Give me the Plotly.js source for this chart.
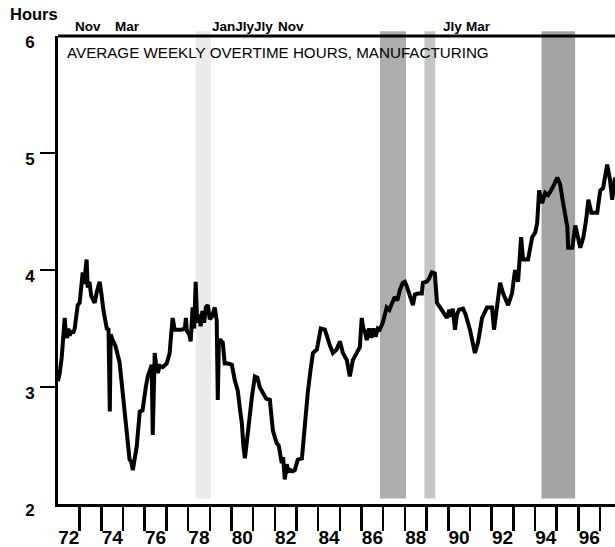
<!DOCTYPE html>
<html>
<head>
<meta charset="utf-8">
<script src="https://cdn.plot.ly/plotly-3.0.1.min.js"></script>
<style>
  html, body { margin: 0; padding: 0; background: #ffffff; }
  #chart { width: 615px; height: 547px; }
</style>
</head>
<body>
<div id="chart"></div>
<script>
// ---- Data (decimal year, hours) ----
const overtimeYears = [
  1972.00,1972.08,1972.17,1972.25,1972.31,1972.36,1972.42,1972.48,1972.54,1972.62,1972.70,1972.77,1972.85,1972.91,
  1973.00,1973.08,1973.14,1973.20,1973.26,1973.32,1973.37,1973.45,1973.53,1973.62,1973.69,1973.80,1973.92,
  1974.00,1974.10,1974.25,1974.33,1974.39,1974.43,1974.52,1974.65,1974.84,1974.95,
  1975.07,1975.20,1975.30,1975.38,1975.45,1975.55,1975.63,1975.77,1975.90,
  1976.05,1976.14,1976.25,1976.32,1976.37,1976.42,1976.46,1976.52,1976.60,1976.70,1976.83,
  1977.01,1977.10,1977.15,1977.22,1977.29,1977.38,1977.55,1977.70,1977.85,1977.90,1977.94,
  1978.05,1978.12,1978.17,1978.21,1978.28,1978.35,1978.42,1978.50,1978.58,1978.66,1978.74,1978.82,1978.91,
  1979.00,1979.10,1979.23,1979.32,1979.37,1979.42,1979.50,1979.60,1979.69,1979.85,
  1980.02,1980.15,1980.29,1980.40,1980.48,1980.55,1980.62,1980.72,1980.85,1980.94,
  1981.08,1981.20,1981.30,1981.45,1981.60,1981.77,1981.91,
  1982.00,1982.09,1982.18,1982.23,1982.32,1982.38,1982.46,1982.55,1982.62,1982.72,1982.82,1982.92,
  1983.06,1983.25,1983.38,1983.52,1983.65,1983.76,1983.94,
  1984.12,1984.31,1984.45,1984.55,1984.68,1984.85,
  1985.00,1985.14,1985.32,1985.46,1985.60,1985.78,1985.92,
  1986.01,1986.08,1986.15,1986.24,1986.35,1986.45,1986.55,1986.65,1986.75,1986.84,1986.98,
  1987.08,1987.16,1987.28,1987.40,1987.53,1987.65,1987.77,1987.90,
  1988.00,1988.09,1988.20,1988.30,1988.37,1988.46,1988.60,1988.78,1988.83,
  1989.00,1989.10,1989.24,1989.38,1989.48,1989.61,1989.75,1989.85,1989.94,
  1990.05,1990.12,1990.21,1990.31,1990.40,1990.50,1990.68,1990.80,
  1991.00,1991.14,1991.23,1991.37,1991.56,1991.79,
  1992.02,1992.11,1992.25,1992.39,1992.53,1992.76,1992.94,
  1993.08,1993.22,1993.36,1993.45,1993.68,1993.87,
  1994.01,1994.10,1994.19,1994.33,1994.47,1994.61,1994.80,
  1995.03,1995.16,1995.30,1995.49,1995.53,1995.72,1995.86,
  1996.00,1996.09,1996.23,1996.36,1996.46,1996.60,1996.87,
  1997.01,1997.14,1997.33,1997.46,1997.56,1997.69
];
const overtimeHours = [
  3.05,3.12,3.25,3.45,3.59,3.45,3.42,3.50,3.44,3.48,3.46,3.50,3.60,3.70,
  3.72,3.85,3.98,3.88,4.00,4.09,3.85,3.90,3.78,3.74,3.72,3.82,3.90,
  3.80,3.65,3.50,3.49,2.79,3.45,3.40,3.35,3.21,3.00,
  2.78,2.52,2.38,2.36,2.29,2.40,2.49,2.79,2.80,
  3.00,3.09,3.15,3.19,2.59,3.10,3.29,3.20,3.12,3.18,3.17,
  3.20,3.25,3.29,3.45,3.59,3.49,3.49,3.49,3.50,3.59,3.48,
  3.45,3.39,3.55,3.68,3.50,3.90,3.55,3.62,3.52,3.65,3.55,3.68,3.70,
  3.58,3.60,3.68,3.57,2.89,3.40,3.40,3.38,3.20,3.20,
  3.19,3.06,2.97,2.80,2.69,2.50,2.39,2.55,2.80,2.91,
  3.09,3.08,3.00,2.95,2.90,2.89,2.63,
  2.57,2.52,2.50,2.42,2.35,2.40,2.21,2.34,2.28,2.29,2.28,2.29,
  2.38,2.39,2.69,2.95,3.15,3.29,3.32,
  3.50,3.49,3.39,3.35,3.29,3.32,
  3.39,3.29,3.23,3.09,3.23,3.29,3.34,
  3.59,3.50,3.48,3.40,3.50,3.42,3.50,3.43,3.50,3.49,3.55,
  3.62,3.68,3.66,3.72,3.77,3.74,3.83,3.89,
  3.90,3.86,3.80,3.75,3.70,3.79,3.80,3.80,3.89,
  3.90,3.92,3.98,3.97,3.72,3.68,3.65,3.62,3.59,
  3.66,3.60,3.67,3.49,3.62,3.66,3.67,3.62,
  3.49,3.34,3.29,3.38,3.59,3.68,
  3.68,3.49,3.68,3.89,3.80,3.70,3.80,
  4.00,3.90,4.28,4.09,4.09,4.28,
  4.32,4.40,4.68,4.57,4.66,4.64,4.70,
  4.79,4.73,4.57,4.37,4.19,4.19,4.38,
  4.25,4.19,4.28,4.43,4.60,4.49,4.49,
  4.68,4.70,4.90,4.77,4.60,4.79
];

// Shaded bands (start, end in decimal years) and their grey tone
const bandStarts = [1978.35, 1986.85, 1988.90, 1994.30];
const bandEnds   = [1979.05, 1988.05, 1989.40, 1995.85];
const bandTones  = ['#ebebeb', '#adadad', '#c6c6c6', '#a4a4a4'];

// Axis ticks / labels
const yearTicks = [];
for (let y = 1973; y <= 1997; y++) yearTicks.push(y);
const yearLabelPos  = [1972.5,1974.5,1976.5,1978.5,1980.5,1982.5,1984.5,1986.5,1988.5,1990.5,1992.5,1994.5,1996.5];
const yearLabelText = ['72','74','76','78','80','82','84','86','88','90','92','94','96'];
const hourLabels = [2, 3, 4, 5, 6];
const hourTicks  = [3, 4, 5];

// Month labels along the top
const monthText = ['Nov', 'Mar', 'JanJlyJly', 'Nov', 'Jly', 'Mar'];
const monthPos  = [1973.39, 1975.19, 1980.50, 1982.75, 1990.21, 1991.39];

const chartTitle = 'AVERAGE WEEKLY OVERTIME HOURS, MANUFACTURING';
const unitLabel = 'Hours';

const XR = [1972, 1997.69];
const YR = [2, 6];
const FONT = 'Liberation Sans, Arial, Helvetica, sans-serif';

const traces = [
  {
    type: 'scatter', mode: 'lines',
    x: overtimeYears, y: overtimeHours,
    line: { color: '#000000', width: 4 },
    hoverinfo: 'skip', xaxis: 'x', yaxis: 'y'
  },
  { type: 'scatter', mode: 'lines', x: [], y: [], xaxis: 'x2', yaxis: 'y2', hoverinfo: 'skip' }
];

const shapes = bandStarts.map((s, i) => ({
  type: 'rect', xref: 'x', yref: 'paper',
  x0: s, x1: bandEnds[i], y0: 0.012, y1: 1.01,
  fillcolor: bandTones[i], line: { width: 0 }, layer: 'below'
}));
shapes.push({
  type: 'line', xref: 'paper', yref: 'paper', x0: 0, x1: 1, y0: 1, y1: 1,
  line: { color: '#000000', width: 3 }
});

const annotations = monthText.map((t, i) => ({
  text: t, xref: 'x', yref: 'paper', x: monthPos[i], y: 1,
  xanchor: 'center', yanchor: 'bottom', yshift: 0, showarrow: false,
  font: { family: FONT, size: 13.5, color: '#000', weight: 'bold' }
}));
annotations.push({
  text: chartTitle, xref: 'paper', yref: 'paper', x: 0.0126, y: 0.9637,
  xanchor: 'left', yanchor: 'middle', showarrow: false,
  font: { family: FONT, size: 15.2, color: '#000' }
});
annotations.push({
  text: unitLabel, xref: 'paper', yref: 'paper', x: -0.09, y: 1.07,
  xanchor: 'left', yanchor: 'top', showarrow: false,
  font: { family: FONT, size: 16.5, color: '#000', weight: 'bold' }
});

const layout = {
  width: 615, height: 547,
  margin: { l: 58, r: 0, t: 36, b: 43, pad: 0 },
  paper_bgcolor: '#ffffff', plot_bgcolor: '#ffffff',
  showlegend: false,
  xaxis: {
    range: XR, fixedrange: true, showgrid: false, zeroline: false,
    showline: true, linecolor: '#000', linewidth: 3,
    tickmode: 'array', tickvals: yearTicks, ticks: 'outside', ticklen: 24, tickwidth: 2.5, tickcolor: '#000',
    showticklabels: false
  },
  xaxis2: {
    range: XR, overlaying: 'x', anchor: 'y', side: 'bottom', fixedrange: true,
    showgrid: false, zeroline: false, showline: false,
    tickmode: 'array', tickvals: yearLabelPos, ticktext: yearLabelText, ticks: '',
    ticklabelstandoff: 20,
    tickfont: { family: FONT, size: 19, color: '#000', weight: 'bold' }
  },
  yaxis: {
    range: YR, fixedrange: true, showgrid: false, zeroline: false,
    showline: true, linecolor: '#000', linewidth: 3,
    tickmode: 'array', tickvals: hourLabels, ticktext: hourLabels.map(String), ticks: '',
    ticklabelstandoff: 17, ticklabelshift: 6,
    tickfont: { family: FONT, size: 17, color: '#000', weight: 'bold' }
  },
  yaxis2: {
    range: YR, overlaying: 'y', anchor: 'x', side: 'left', fixedrange: true,
    showgrid: false, zeroline: false, showline: false,
    tickmode: 'array', tickvals: hourTicks, ticks: 'outside', ticklen: 17, tickwidth: 2.5, tickcolor: '#000',
    showticklabels: false
  },
  shapes: shapes,
  annotations: annotations
};

Plotly.newPlot('chart', traces, layout, { staticPlot: true, displayModeBar: false });
</script>
</body>
</html>
